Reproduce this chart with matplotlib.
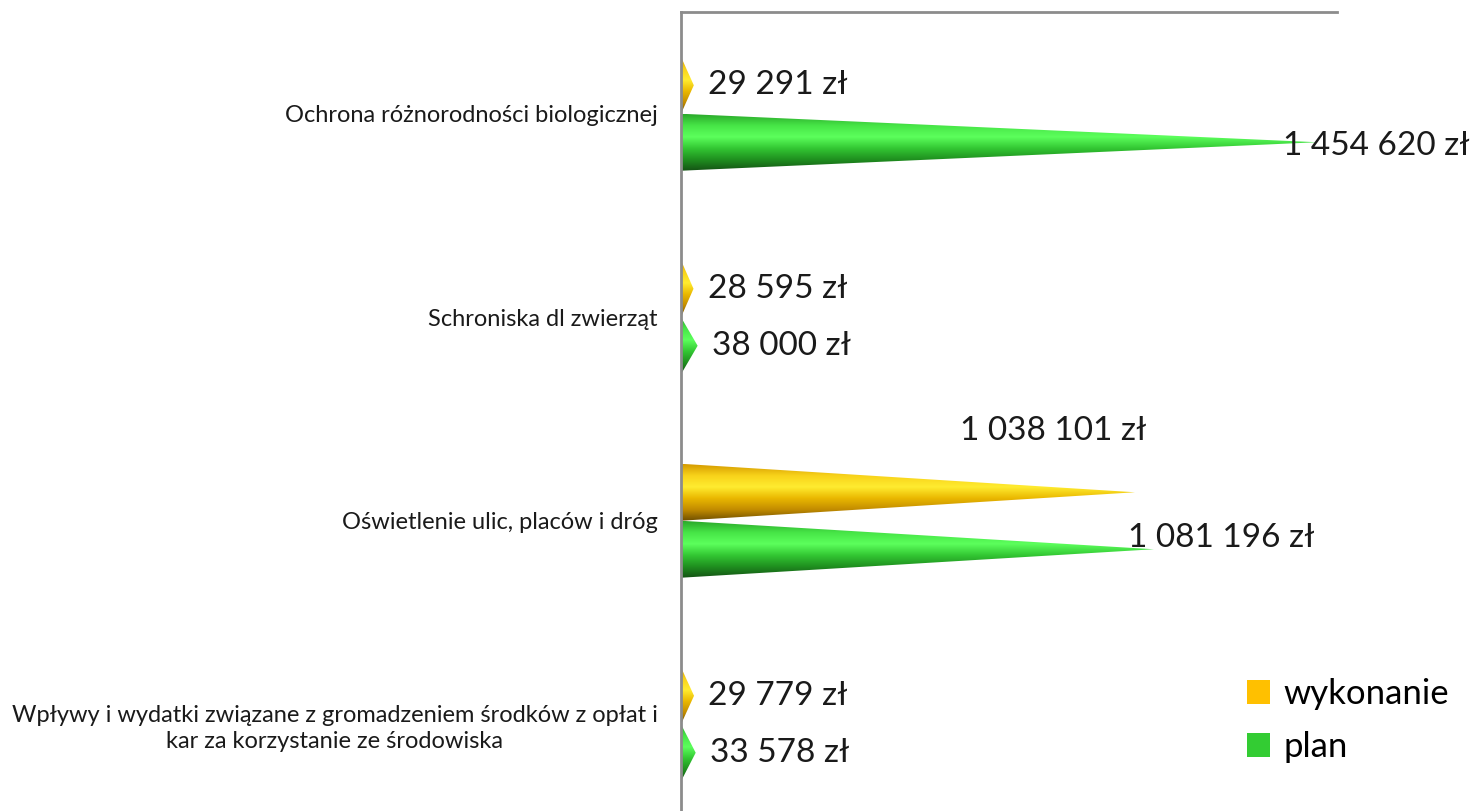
import numpy as np
import matplotlib
matplotlib.use('Agg')
import matplotlib.pyplot as plt
from matplotlib.colors import LinearSegmentedColormap
from matplotlib.patches import Polygon, Patch

plt.rcParams['font.family'] = ['Lato', 'DejaVu Sans']

categories = ['Ochrona różnorodności biologicznej',
              'Schroniska dl zwierząt',
              'Oświetlenie ulic, placów i dróg',
              'Wpływy i wydatki związane z gromadzeniem środków z opłat i\nkar za korzystanie ze środowiska']
wykonanie = [29291, 28595, 1038101, 29779]
plan = [1454620, 38000, 1081196, 33578]
series_names = ['wykonanie', 'plan']

# label offsets in pixels (dx, dy) from the cone tip
wyk_offsets = [(14, 0), (14, 0), (-175, 61), (14, 0)]
plan_offsets = [(-34, -4), (14, 0), (-26, 11), (14, 0)]

fmt = lambda v: f'{v:,}'.replace(',', ' ') + ' zł'

yellow_grad = ['#d49a00', '#f8d21a', '#ffec30', '#eab800', '#c28c00', '#6e4e00']
green_grad = ['#2aa82a', '#47e547', '#5cff5c', '#33c733', '#1f8f1f', '#145214']

fig = plt.figure(figsize=(14.74, 8.11), dpi=100)
ax = fig.add_axes([681 / 1474, -15 / 811, 656 / 1474, 814 / 811])

bar_h = 0.28


def cone(ax, value, y0, y1, colors):
    cmap = LinearSegmentedColormap.from_list('g', colors)
    grad = np.linspace(0, 1, 256).reshape(-1, 1)
    tri = Polygon([(0, y0), (value, (y0 + y1) / 2), (0, y1)], closed=True,
                  facecolor='none', edgecolor='none')
    ax.add_patch(tri)
    im = ax.imshow(grad, cmap=cmap, aspect='auto', origin='lower',
                   extent=[0, value, y0, y1], interpolation='bilinear')
    im.set_clip_path(tri)


for i in range(len(categories)):
    cone(ax, wykonanie[i], i - bar_h, i, yellow_grad)
    cone(ax, plan[i], i, i + bar_h, green_grad)
    ax.annotate(fmt(wykonanie[i]), xy=(wykonanie[i], i - bar_h / 2),
                xytext=wyk_offsets[i], textcoords='offset pixels',
                ha='left', va='center', fontsize=24, color='#1a1a1a')
    ax.annotate(fmt(plan[i]), xy=(plan[i], i + bar_h / 2),
                xytext=plan_offsets[i], textcoords='offset pixels',
                ha='left', va='center', fontsize=24, color='#1a1a1a')

ax.set_xlim(0, 1500000)
ax.set_ylim(3.5, -0.5)
ax.set_xticks([])
ax.set_yticks(range(len(categories)))
ax.set_yticklabels(categories, fontsize=17, color='#1a1a1a', multialignment='center',
                   linespacing=1.25)
ax.tick_params(axis='y', length=0, pad=17)
for s in ['right', 'bottom']:
    ax.spines[s].set_visible(False)
for s in ['left', 'top']:
    ax.spines[s].set_color('#8c8c8c')
    ax.spines[s].set_linewidth(2)

handles = [Patch(facecolor='#ffc000', label=series_names[0]),
           Patch(facecolor='#33cc33', label=series_names[1])]
fig.legend(handles=handles, loc='lower right', bbox_to_anchor=(1463 / 1474, 34 / 811),
           frameon=False, fontsize=25, handlelength=0.65, handleheight=0.65,
           handletextpad=0.4, labelspacing=0.6, borderaxespad=0)

fig.savefig('out.png', dpi=100)
